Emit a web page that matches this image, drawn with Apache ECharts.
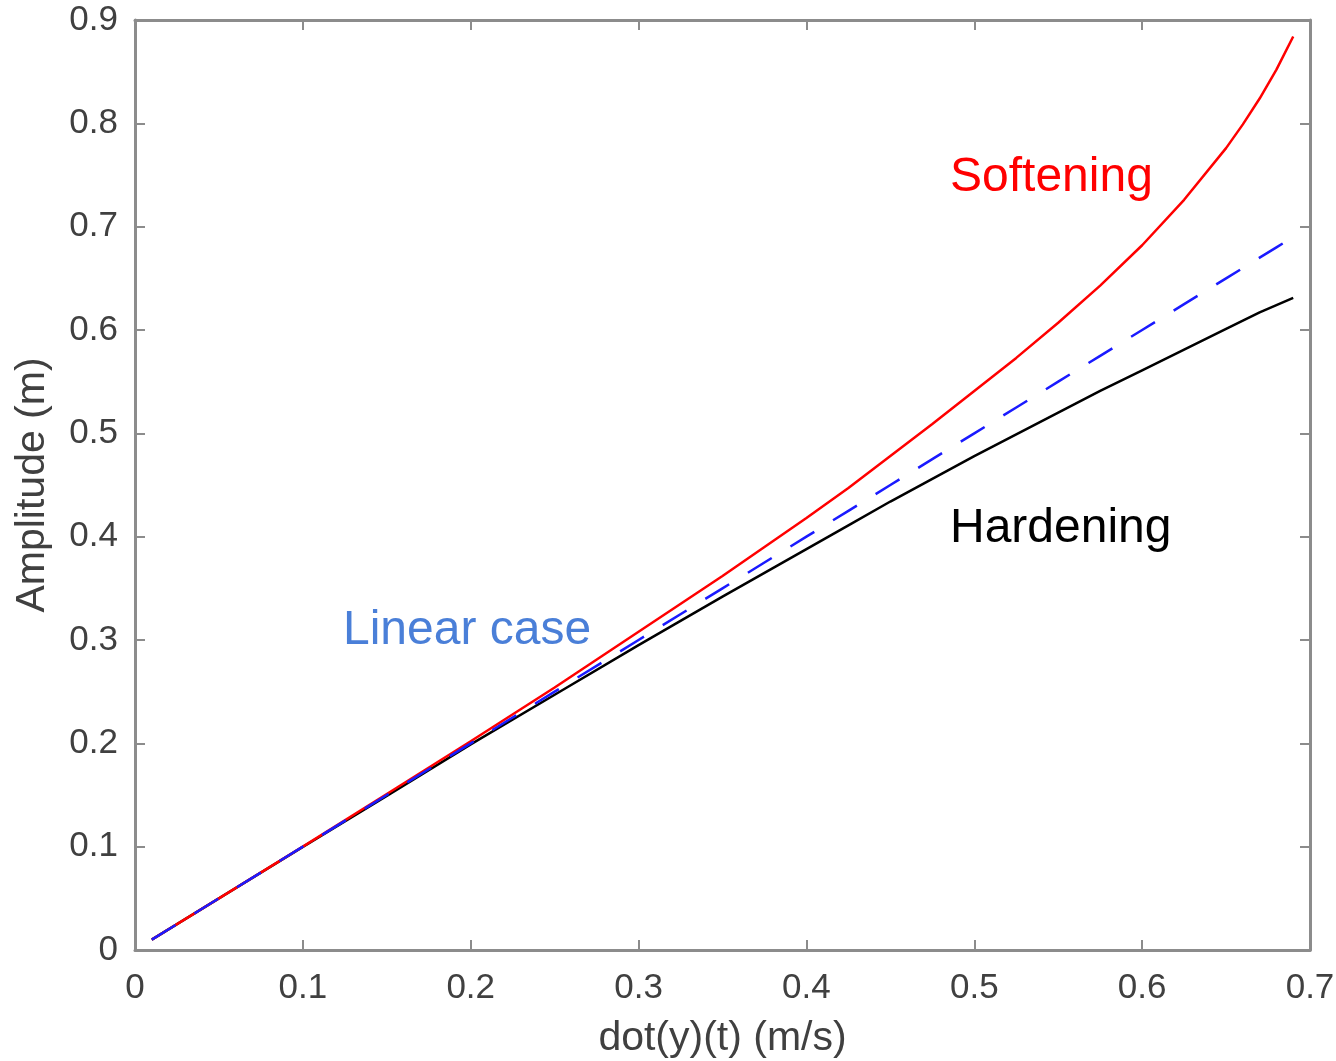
<!DOCTYPE html>
<html>
<head>
<meta charset="utf-8">
<script src="https://cdn.jsdelivr.net/npm/echarts@6/dist/echarts.min.js"></script>
<style>
html,body{margin:0;padding:0;background:#fff;}
#chart{width:1336px;height:1061px;}
</style>
</head>
<body>
<div id="chart"></div>
<script>
const xValues = [0.01, 0.05, 0.1, 0.15, 0.2, 0.25, 0.3, 0.35, 0.4, 0.425, 0.45, 0.475, 0.5, 0.525, 0.55, 0.575, 0.6, 0.625, 0.65, 0.66, 0.67, 0.68, 0.69];
const softening = [0.01, 0.05, 0.1, 0.151, 0.202, 0.254, 0.308, 0.362, 0.418, 0.447, 0.478, 0.509, 0.541, 0.573, 0.607, 0.643, 0.682, 0.726, 0.776, 0.799, 0.824, 0.852, 0.884];
const linearCase = [0.01, 0.05, 0.1, 0.15, 0.2, 0.25, 0.3, 0.35, 0.4, 0.425, 0.45, 0.475, 0.5, 0.525, 0.55, 0.575, 0.6, 0.625, 0.65, 0.66, 0.67, 0.68, 0.69];
const hardening = [0.01, 0.05, 0.0998, 0.149, 0.199, 0.247, 0.295, 0.342, 0.388, 0.411, 0.434, 0.456, 0.478, 0.499, 0.520, 0.541, 0.561, 0.581, 0.601, 0.609, 0.617, 0.624, 0.631];
const xTicks = [0, 0.1, 0.2, 0.3, 0.4, 0.5, 0.6, 0.7];
const yTicks = [0, 0.1, 0.2, 0.3, 0.4, 0.5, 0.6, 0.7, 0.8, 0.9];
const labels = [
  {text: 'Softening', color: '#ff0000'},
  {text: 'Hardening', color: '#000000'},
  {text: 'Linear case', color: '#4a7fd8'}
];

const pair = (xs, ys) => xs.map((x, i) => [x, ys[i]]);
const fmt = v => (v === 0 ? '0' : String(Math.round(v * 10) / 10));
const frame = '#8c8c8c';
const font = 'Liberation Sans, Arial, Helvetica, sans-serif';

const baseX = {
  type: 'value', min: xTicks[0], max: xTicks[xTicks.length - 1], interval: 0.1,
  splitLine: {show: false},
  axisLine: {show: true, onZero: false, lineStyle: {color: frame, width: 3}},
  axisTick: {show: true, inside: true, length: 10, lineStyle: {color: frame, width: 2}}
};
const baseY = {
  type: 'value', min: yTicks[0], max: yTicks[yTicks.length - 1], interval: 0.1,
  splitLine: {show: false},
  axisLine: {show: true, onZero: false, lineStyle: {color: frame, width: 3}},
  axisTick: {show: true, inside: true, length: 10, lineStyle: {color: frame, width: 2}}
};

const chart = echarts.init(document.getElementById('chart'), null, {renderer: 'canvas'});
chart.setOption({
  backgroundColor: '#ffffff',
  animation: false,
  grid: {left: 135, right: 26, top: 20, bottom: 111, containLabel: false, outerBoundsMode: 'none'},
  xAxis: [
    Object.assign({}, baseX, {
      position: 'bottom',
      name: 'dot(y)(t) (m/s)', nameLocation: 'middle', nameGap: 68,
      nameTextStyle: {fontFamily: font, fontSize: 41, color: '#404040'},
      axisLabel: {show: true, margin: 21, fontFamily: font, fontSize: 35, color: '#404040', formatter: fmt}
    }),
    Object.assign({}, baseX, {position: 'top', axisLabel: {show: false}})
  ],
  yAxis: [
    Object.assign({}, baseY, {
      position: 'left',
      name: 'Amplitude (m)', nameLocation: 'middle', nameGap: 82, nameRotate: 90,
      nameTextStyle: {fontFamily: font, fontSize: 41, color: '#404040'},
      axisLabel: {show: true, margin: 17, fontFamily: font, fontSize: 35, color: '#404040', formatter: fmt}
    }),
    Object.assign({}, baseY, {position: 'right', axisLabel: {show: false}})
  ],
  series: [
    {type: 'line', name: 'Hardening', data: pair(xValues, hardening), showSymbol: false, symbol: 'none',
     lineStyle: {color: '#000000', width: 2.5}, z: 3},
    {type: 'line', name: 'Softening', data: pair(xValues, softening), showSymbol: false, symbol: 'none',
     lineStyle: {color: '#ff0000', width: 2.5}, z: 4},
    {type: 'line', name: 'Linear case', data: pair(xValues, linearCase), showSymbol: false, symbol: 'none',
     lineStyle: {color: '#1a1aff', width: 2.5, type: [28, 22]}, z: 5}
  ],
  graphic: [
    {type: 'text', left: 950, top: 154, style: {text: labels[0].text, fill: labels[0].color, font: '48px ' + font}},
    {type: 'text', left: 950, top: 505, style: {text: labels[1].text, fill: labels[1].color, font: '48px ' + font}},
    {type: 'text', left: 343, top: 607, style: {text: labels[2].text, fill: labels[2].color, font: '48px ' + font}}
  ]
});
</script>
</body>
</html>
